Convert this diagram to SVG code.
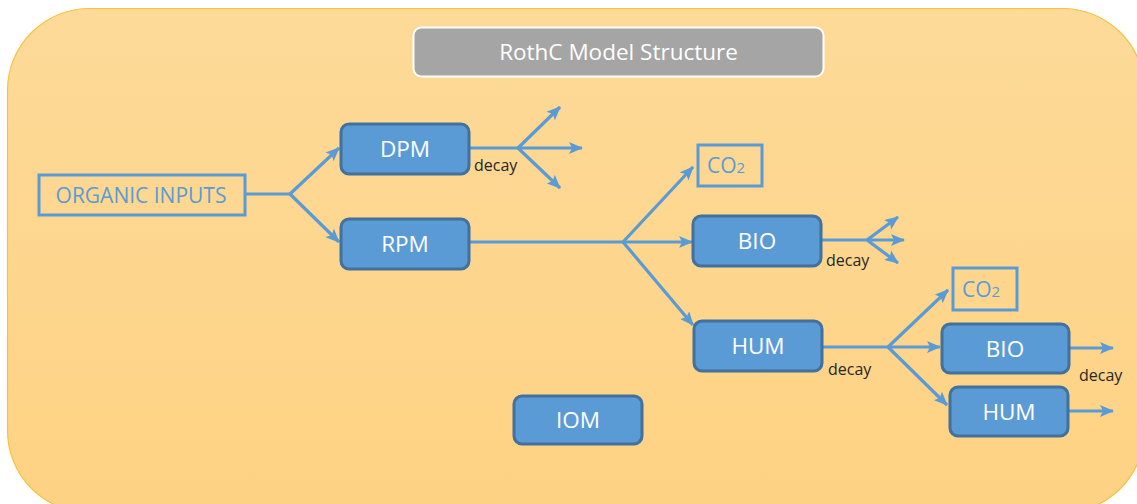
<svg xmlns="http://www.w3.org/2000/svg" width="1137" height="504" viewBox="0 0 1137 504">
  <defs>
    <linearGradient id="bg" x1="0" y1="0" x2="0" y2="1">
      <stop offset="0" stop-color="#fdda99"/>
      <stop offset="1" stop-color="#fed283"/>
    </linearGradient>
    <marker id="arrow" viewBox="0 0 14 12" refX="13" refY="6" markerWidth="14" markerHeight="12" markerUnits="userSpaceOnUse" orient="auto">
      <path d="M0,0 L14,6 L0,12 L3,6 Z" fill="#5b9bd5"/>
    </marker>
    <style>
      .pool rect { fill: #5b9bd5; stroke: #41719c; stroke-width: 3; }
      .pool text { fill: #ffffff; font-family: "Open Sans", "Liberation Sans", sans-serif; font-size: 22.5px; text-anchor: middle; }
      .outline rect { fill: none; stroke: #5b9bd5; stroke-width: 3; }
      .outline text { fill: #5b9bd5; font-family: "Open Sans", "Liberation Sans", sans-serif; font-size: 21px; text-anchor: middle; }
      .link { fill: none; stroke: #5b9bd5; stroke-width: 3.2; }
      .arr { marker-end: url(#arrow); }
      .decay { fill: #262626; font-family: "Open Sans", "Liberation Sans", sans-serif; font-size: 16px; }
    </style>
  </defs>

  <!-- panel background -->
  <rect x="7.5" y="8.5" width="1137" height="504" rx="82" ry="82" fill="url(#bg)" stroke="#f7c23e" stroke-width="1.2"/>

  <!-- title -->
  <g id="title">
    <rect x="413.5" y="27.5" width="410" height="49" rx="8" fill="#a5a5a5" stroke="#ffffff" stroke-width="2"/>
    <text x="618.5" y="60" fill="#ffffff" font-family="'Open Sans', 'Liberation Sans', sans-serif" font-size="22.5" text-anchor="middle">RothC Model Structure</text>
  </g>

  <!-- connectors -->
  <g id="connectors">
    <!-- organic inputs split -->
    <path class="link" d="M246,194 L290,194"/>
    <path class="link arr" d="M290,194 L339,148"/>
    <path class="link arr" d="M290,194 L339,242"/>
    <!-- DPM decay -->
    <path class="link" d="M470,148 L518,148"/>
    <path class="link arr" d="M518,148 L560,107"/>
    <path class="link arr" d="M518,148 L582,148"/>
    <path class="link arr" d="M518,148 L560,188"/>
    <!-- RPM decay -->
    <path class="link" d="M470,242 L623,242"/>
    <path class="link arr" d="M623,242 L693,167"/>
    <path class="link arr" d="M623,242 L692,242"/>
    <path class="link arr" d="M623,242 L693,325"/>
    <!-- BIO decay -->
    <path class="link" d="M822,240 L867,240"/>
    <path class="link arr" d="M867,240 L898,217"/>
    <path class="link arr" d="M867,240 L904,240"/>
    <path class="link arr" d="M867,240 L898,263"/>
    <!-- HUM decay -->
    <path class="link" d="M823,347 L888,347"/>
    <path class="link arr" d="M888,347 L948,290"/>
    <path class="link arr" d="M888,347 L940,347"/>
    <path class="link arr" d="M888,347 L947,405"/>
    <!-- second level outflows -->
    <path class="link arr" d="M1070,348 L1113,348"/>
    <path class="link arr" d="M1069,411 L1113,411"/>
    <!-- decay labels -->
    <text class="decay" x="474" y="171">decay</text>
    <text class="decay" x="826" y="266">decay</text>
    <text class="decay" x="828" y="375">decay</text>
    <text class="decay" x="1079" y="381">decay</text>
  </g>

  <g id="organic-inputs" class="outline">
    <rect x="39" y="175" width="206" height="40"/>
    <text x="141" y="203" font-size="23">ORGANIC INPUTS</text>
  </g>

  <g id="dpm" class="pool">
    <rect x="341" y="124" width="128" height="50" rx="8"/>
    <text x="405" y="157">DPM</text>
  </g>

  <g id="rpm" class="pool">
    <rect x="341" y="219" width="128" height="50" rx="8"/>
    <text x="405" y="252">RPM</text>
  </g>

  <g id="co2-a" class="outline">
    <rect x="698" y="145" width="64" height="41"/>
    <text x="726" y="173">CO<tspan font-size="15">2</tspan></text>
  </g>

  <g id="bio-a" class="pool">
    <rect x="693" y="216" width="128" height="50" rx="8"/>
    <text x="757" y="249">BIO</text>
  </g>

  <g id="hum-a" class="pool">
    <rect x="694" y="321" width="128" height="50" rx="8"/>
    <text x="758" y="354">HUM</text>
  </g>

  <g id="co2-b" class="outline">
    <rect x="953" y="268" width="64" height="42"/>
    <text x="981" y="297">CO<tspan font-size="15">2</tspan></text>
  </g>

  <g id="bio-b" class="pool">
    <rect x="942" y="324" width="127" height="49" rx="8"/>
    <text x="1005" y="357">BIO</text>
  </g>

  <g id="hum-b" class="pool">
    <rect x="950" y="387" width="118" height="49" rx="8"/>
    <text x="1009" y="420">HUM</text>
  </g>

  <g id="iom" class="pool">
    <rect x="514" y="396" width="128" height="48" rx="8"/>
    <text x="578" y="428">IOM</text>
  </g>
</svg>
